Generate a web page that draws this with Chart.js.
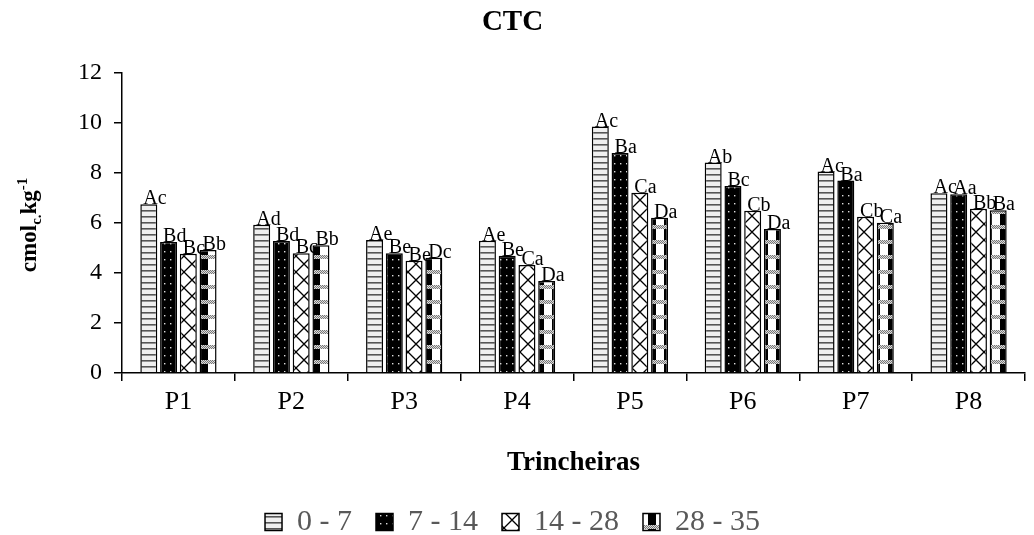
<!DOCTYPE html>
<html>
<head>
<meta charset="utf-8">
<script src="https://cdn.jsdelivr.net/npm/chart.js@4/dist/chart.umd.min.js"></script>
<style>
html,body{margin:0;padding:0;background:#fff;}
#wrap{width:1034px;height:535px;position:relative;}
</style>
</head>
<body>
<div id="wrap"><canvas id="c" width="1034" height="535"></canvas></div>
<script>
const categories = ['P1','P2','P3','P4','P5','P6','P7','P8'];
const seriesNames = ['0 - 7','7 - 14','14 - 28','28 - 35'];
const values0_7   = [6.75, 5.93, 5.32, 5.29, 9.85, 8.41, 8.05, 7.19];
const values7_14  = [5.24, 5.28, 4.79, 4.69, 8.79, 7.48, 7.69, 7.15];
const values14_28 = [4.77, 4.79, 4.49, 4.32, 7.21, 6.49, 6.25, 6.57];
const values28_35 = [4.92, 5.11, 4.61, 3.68, 6.21, 5.76, 6.01, 6.51];
const letters0_7   = ['Ac','Ad','Ae','Ae','Ac','Ab','Ac','Ac'];
const letters7_14  = ['Bd','Bd','Be','Be','Ba','Bc','Ba','Aa'];
const letters14_28 = ['Bc','Bc','Be','Ca','Ca','Cb','Cb','Bb'];
const letters28_35 = ['Bb','Bb','Dc','Da','Da','Da','Ca','Ba'];
const yTicks = [0,2,4,6,8,10,12];

const SERIF = "'Liberation Serif', 'Times New Roman', serif";

function tile(w,h,draw){
  const c=document.createElement('canvas'); c.width=w; c.height=h;
  const g=c.getContext('2d'); draw(g,w,h);
  return document.getElementById('c').getContext('2d').createPattern(c,'repeat');
}
const patStripes = tile(8,6,(g,w,h)=>{
  g.fillStyle='#efefef'; g.fillRect(0,0,w,h);
  g.fillStyle='#555'; g.fillRect(0,0,w,1.6);
});
const patDots = tile(6,8,(g,w,h)=>{
  g.fillStyle='#000'; g.fillRect(0,0,w,h);
  g.fillStyle='#ddd'; g.fillRect(2,3,1.4,1.4);
});
const patLattice = tile(16,16,(g,w,h)=>{
  g.fillStyle='#fff'; g.fillRect(0,0,w,h);
  g.strokeStyle='#000'; g.lineWidth=1.3;
  g.beginPath(); g.moveTo(0,8); g.lineTo(8,0); g.lineTo(16,8); g.lineTo(8,16); g.closePath(); g.stroke();
});
const patChecker = tile(16,15,(g,w,h)=>{
  g.fillStyle='#fff'; g.fillRect(0,0,w,h);
  g.fillStyle='#000'; g.fillRect(8,0,8,h);
  for(let yy=0; yy<4; yy++){ for(let xx=0; xx<16; xx++){
    g.fillStyle = ((xx+yy)%2===0) ? '#777' : '#ddd';
    g.fillRect(xx,yy,1,1);
  }}
});

const letterSets = [letters0_7, letters7_14, letters14_28, letters28_35];

const barLetters = {
  id:'barLetters',
  afterDatasetDraw(chart, args){
    const meta = chart.getDatasetMeta(args.index);
    const ctx = chart.ctx;
    ctx.save();
    ctx.font = '20px ' + SERIF;
    ctx.fillStyle = '#000';
    ctx.textAlign = 'left';
    ctx.textBaseline = 'alphabetic';
    meta.data.forEach((el,i)=>{
      const t = letterSets[args.index][i];
      ctx.fillText(t, el.x - el.width/2 + 3, el.y);
    });
    ctx.restore();
  }
};

const yTitle = {
  id:'yTitle',
  afterDraw(chart){
    const ctx = chart.ctx;
    const cy = (chart.chartArea.top + chart.chartArea.bottom)/2 + 2;
    ctx.save();
    ctx.translate(28, cy);
    ctx.rotate(-Math.PI/2);
    ctx.fillStyle='#000';
    ctx.textBaseline='alphabetic';
    const big = 'bold 23px ' + SERIF, small = 'bold 15px ' + SERIF;
    const parts = [['cmol',big,0],['c.',small,5],['kg',big,0],['-1',small,-9]];
    let total=0;
    parts.forEach(p=>{ctx.font=p[1]; total+=ctx.measureText(p[0]).width;});
    let x=-total/2;
    parts.forEach(p=>{ctx.font=p[1]; ctx.fillText(p[0], x, 8 + p[2]); x+=ctx.measureText(p[0]).width;});
    ctx.restore();
  }
};

new Chart(document.getElementById('c'), {
  type:'bar',
  data:{
    labels: categories,
    datasets:[
      {label:seriesNames[0], data:values0_7,   backgroundColor:patStripes, borderColor:'#000', borderWidth:1.5},
      {label:seriesNames[1], data:values7_14,  backgroundColor:patDots,    borderColor:'#000', borderWidth:1.5},
      {label:seriesNames[2], data:values14_28, backgroundColor:patLattice, borderColor:'#000', borderWidth:1.5},
      {label:seriesNames[3], data:values28_35, backgroundColor:patChecker, borderColor:'#000', borderWidth:1.5}
    ]
  },
  options:{
    responsive:false,
    animation:false,
    devicePixelRatio:1,
    layout:{padding:{left:0,right:9,top:0,bottom:0}},
    datasets:{bar:{categoryPercentage:0.70, barPercentage:0.86}},
    plugins:{
      title:{display:true, text:'CTC', color:'#000', font:{family:SERIF, size:29, weight:'bold'}, padding:{top:5,bottom:33}},
      legend:{
        position:'bottom',
        maxHeight:52,
        labels:{font:{family:SERIF,size:30}, color:'#595959', boxWidth:17, boxHeight:17, padding:24}
      },
      tooltip:{enabled:false}
    },
    scales:{
      x:{
        grid:{display:true, drawOnChartArea:false, drawTicks:true, tickLength:8, color:'#000', lineWidth:1.5, offset:true},
        border:{display:true, color:'#000', width:1.5},
        ticks:{font:{family:SERIF,size:26}, color:'#000', padding:6},
        title:{display:true, text:'Trincheiras', color:'#000', font:{family:SERIF,size:27,weight:'bold'}, padding:{top:0,bottom:4}},
        afterFit(s){ s.height = 110; }
      },
      y:{
        min:0, max:12,
        grid:{display:true, drawOnChartArea:false, drawTicks:true, tickLength:8, color:'#000', lineWidth:1.5},
        border:{display:true, color:'#000', width:1.5},
        ticks:{font:{family:SERIF,size:24}, color:'#000', padding:12, stepSize:2,
               callback:(v)=> yTicks.includes(v) ? String(v) : ''},
        afterFit(s){ s.width = 122; }
      }
    }
  },
  plugins:[barLetters, yTitle]
});
</script>
</body>
</html>
